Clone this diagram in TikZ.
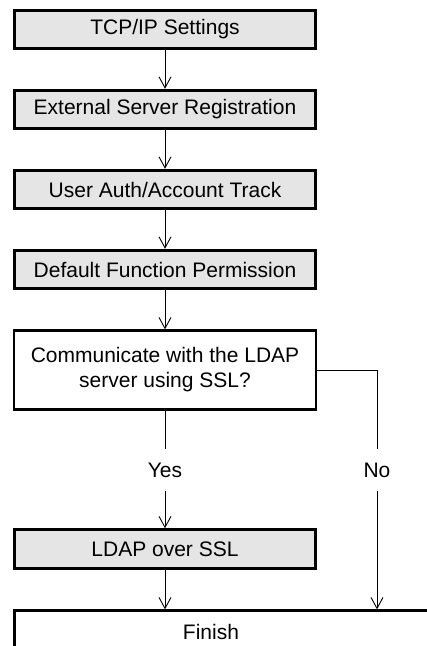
\documentclass[tikz,border=0pt]{standalone}
\usepackage{fontspec}
\setmainfont{Liberation Sans}
\usetikzlibrary{arrows.meta}
\definecolor{boxgrey}{RGB}{229,229,229}
\begin{document}
\begin{tikzpicture}[x=1pt,y=1pt,
  every node/.style={font=\fontsize{21}{25}\selectfont, inner sep=0pt},
  greybox/.style={draw=black, line width=3pt, fill=boxgrey, minimum width=301pt, minimum height=38.5pt},
  decbox/.style={draw=black, line width=2.3pt, fill=white, minimum width=301.5pt, minimum height=79pt, align=center},
  conn/.style={draw=black, line width=0.9pt},
  arr/.style={conn, -{Straight Barb[length=11pt,width=12pt,line width=0.9pt]}},
  lbl/.style={minimum height=42pt}
]
\useasboundingbox (0,0) rectangle (427,-646);
\clip (0,0) rectangle (427,-646);
\fill[white] (0,0) rectangle (427,-646);

\node[greybox] (tcp) at (165,-29.5) {TCP/IP Settings};
\node[greybox] (ext) at (165,-109.5) {External Server Registration};
\node[greybox] (usr) at (165,-189.5) {User Auth/Account Track};
\node[greybox] (dfp) at (165,-269.5) {Default Function Permission};
\node[decbox] (dec) at (165,-370) {Communicate with the LDAP\\server using SSL?};
\node[lbl] (yes) at (165,-470) {Yes};
\node[lbl] (no) at (377,-470) {No};
\node[greybox] (ldap) at (165,-549) {LDAP over SSL};
\node[draw=black, line width=2.3pt, fill=white, minimum width=440pt, minimum height=80pt, anchor=north west] (fin) at (13.35,-609.35) {};
\node (fintxt) at (211,-632) {Finish};

\draw[arr] (tcp) -- (ext);
\draw[arr] (ext) -- (usr);
\draw[arr] (usr) -- (dfp);
\draw[arr] (dfp) -- (dec);
\draw[conn] (dec.south) -- (yes.north);
\draw[arr] (yes.south) -- (ldap.north);
\draw[arr] (ldap.south) -- (ldap.south |- fin.north);
\draw[conn] (dec.east) -| (no.north);
\draw[arr] (no.south) -- (no.south |- fin.north);
\end{tikzpicture}
\end{document}
